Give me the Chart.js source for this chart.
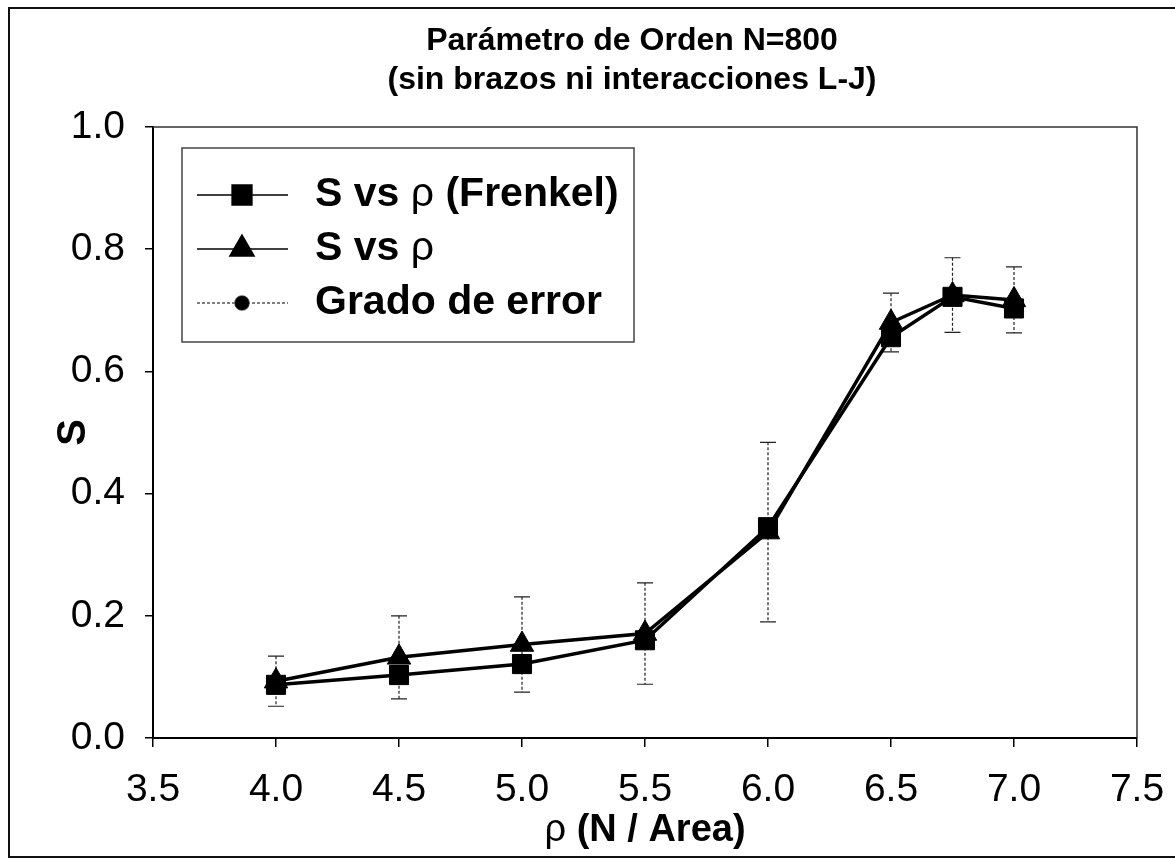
<!DOCTYPE html>
<html>
<head>
<meta charset="utf-8">
<title>Parámetro de Orden N=800</title>
<script src="https://cdn.jsdelivr.net/npm/chart.js@4/dist/chart.umd.min.js"></script>
<style>
  html, body { margin: 0; padding: 0; background: #fff; }
</style>
</head>
<body>
<canvas id="my-chart" width="1175" height="862"></canvas>
<script>
// densidad rho (N / Area)
const rho = [4.0, 4.5, 5.0, 5.5, 6.0, 6.5, 6.75, 7.0];
// S vs rho (Frenkel) - cuadrados
const sFrenkel = [0.087, 0.103, 0.121, 0.160, 0.345, 0.656, 0.722, 0.703];
// S vs rho - triangulos
const sVals = [0.093, 0.132, 0.153, 0.171, 0.337, 0.680, 0.725, 0.717];
// grado de error (extremos de las barras)
const errLow = [0.052, 0.064, 0.075, 0.088, 0.190, 0.632, 0.664, 0.663];
const errHigh = [0.134, 0.200, 0.231, 0.254, 0.484, 0.728, 0.786, 0.771];

const xTicks = [3.5, 4.0, 4.5, 5.0, 5.5, 6.0, 6.5, 7.0, 7.5];
const yTicks = [0.0, 0.2, 0.4, 0.6, 0.8, 1.0];

const titleLines = ['Parámetro de Orden N=800', '(sin brazos ni interacciones L-J)'];
const FONT = '"Liberation Sans", Arial, sans-serif';

function drawRuns(ctx, x, y, parts, size, align) {
  let total = 0;
  parts.forEach(([txt, bold]) => {
    ctx.font = (bold ? 'bold ' : '') + size + 'px ' + FONT;
    total += ctx.measureText(txt).width;
  });
  if (align === 'center') x -= total / 2;
  ctx.textAlign = 'left';
  parts.forEach(([txt, bold]) => {
    ctx.font = (bold ? 'bold ' : '') + size + 'px ' + FONT;
    ctx.fillText(txt, x, y);
    x += ctx.measureText(txt).width;
  });
}

const errorBars = {
  id: 'errorBars',
  beforeDatasetsDraw(chart) {
    const {ctx, scales: {x, y}} = chart;
    ctx.save();
    ctx.strokeStyle = '#222';
    ctx.lineWidth = 1.2;
    rho.forEach((r, i) => {
      const px = x.getPixelForValue(r);
      const top = y.getPixelForValue(errHigh[i]);
      const bot = y.getPixelForValue(errLow[i]);
      ctx.setLineDash([3, 2]);
      ctx.beginPath();
      ctx.moveTo(px, top);
      ctx.lineTo(px, bot);
      ctx.stroke();
      ctx.setLineDash([]);
      ctx.beginPath();
      ctx.moveTo(px - 8, top); ctx.lineTo(px + 8, top);
      ctx.moveTo(px - 8, bot); ctx.lineTo(px + 8, bot);
      ctx.stroke();
    });
    ctx.restore();
  }
};

const decorations = {
  id: 'decorations',
  afterDraw(chart) {
    const {ctx, chartArea: a} = chart;
    ctx.save();
    // marco exterior
    ctx.strokeStyle = '#111';
    ctx.lineWidth = 2;
    ctx.strokeRect(9, 8, 1180, 849);
    // borde superior y derecho del area
    ctx.lineWidth = 1.5;
    ctx.strokeStyle = '#333';
    ctx.beginPath();
    ctx.moveTo(a.left, a.top);
    ctx.lineTo(a.right, a.top);
    ctx.lineTo(a.right, a.bottom);
    ctx.stroke();

    // titulo
    ctx.fillStyle = '#000';
    ctx.textBaseline = 'alphabetic';
    ctx.textAlign = 'center';
    ctx.font = 'bold 32px ' + FONT;
    ctx.fillText(titleLines[0], 632, 50);
    ctx.fillText(titleLines[1], 632, 89);

    // titulo eje x
    ctx.textBaseline = 'middle';
    drawRuns(ctx, (a.left + a.right) / 2, 831, [['ρ ', false], ['(N / Area)', true]], 38, 'center');

    // leyenda
    ctx.strokeStyle = '#444';
    ctx.lineWidth = 1.5;
    ctx.strokeRect(182, 148, 452, 194);
    const rows = [
      {y: 195, style: 'rect', dash: [], parts: [['S vs ', true], ['ρ', false], [' (Frenkel)', true]]},
      {y: 249, style: 'triangle', dash: [], parts: [['S vs ', true], ['ρ', false]]},
      {y: 303, style: 'circle', dash: [3, 2], parts: [['Grado de error', true]]}
    ];
    rows.forEach(r => {
      ctx.strokeStyle = r.style === 'circle' ? '#555' : '#000';
      ctx.lineWidth = 1.5;
      ctx.setLineDash(r.dash);
      ctx.beginPath();
      ctx.moveTo(197, r.y);
      ctx.lineTo(288, r.y);
      ctx.stroke();
      ctx.setLineDash([]);
      const rad = r.style === 'circle' ? 7 : 14;
      Chart.helpers.drawPoint(ctx, {pointStyle: r.style, radius: rad, borderWidth: 1}, 242, r.y);
      ctx.fillStyle = '#000';
      ctx.fill();
      ctx.textBaseline = 'middle';
      drawRuns(ctx, 315, r.y, r.parts, 41, 'left');
    });
    ctx.restore();
  }
};

const ctx = document.getElementById('my-chart').getContext('2d');
const chart = new Chart(ctx, {
  type: 'line',
  data: {
    datasets: [
      {
        label: 'S vs ρ (Frenkel)',
        data: rho.map((r, i) => ({x: r, y: sFrenkel[i]})),
        borderColor: '#000',
        backgroundColor: '#000',
        borderWidth: 3.5,
        pointStyle: 'rect',
        pointRadius: 13.5,
        pointBorderWidth: 1,
        order: 1
      },
      {
        label: 'S vs ρ',
        data: rho.map((r, i) => ({x: r, y: sVals[i]})),
        borderColor: '#000',
        backgroundColor: '#000',
        borderWidth: 3.5,
        pointStyle: 'triangle',
        pointRadius: 13.5,
        pointBorderWidth: 1,
        order: 2
      },
      {
        label: 'Grado de error',
        data: rho.map((r, i) => ({x: r, y: sVals[i]})),
        borderColor: '#000',
        backgroundColor: '#000',
        showLine: false,
        pointStyle: 'circle',
        pointRadius: 4,
        order: 3
      }
    ]
  },
  options: {
    responsive: false,
    animation: false,
    layout: {padding: {left: 12, right: 38, top: 127, bottom: 10}},
    plugins: {
      legend: {display: false},
      tooltip: {enabled: false},
      title: {display: false}
    },
    scales: {
      x: {
        type: 'linear',
        min: 3.5,
        max: 7.5,
        afterBuildTicks: s => { s.ticks = xTicks.map(v => ({value: v})); },
        afterFit: s => { s.height = 114; s.paddingLeft = 0; s.paddingRight = 0; },
        grid: {display: true, drawOnChartArea: false, drawTicks: true, tickLength: 9, color: '#000', lineWidth: 1.5},
        border: {display: true, color: '#000', width: 2},
        ticks: {
          color: '#000',
          padding: 20,
          maxRotation: 0,
          font: {family: FONT, size: 39},
          callback: v => v.toFixed(1)
        }
      },
      y: {
        min: 0,
        max: 1,
        afterBuildTicks: s => { s.ticks = yTicks.map(v => ({value: v})); },
        afterFit: s => { s.width = 141; },
        grid: {display: true, drawOnChartArea: false, drawTicks: true, tickLength: 8, color: '#000', lineWidth: 1.5},
        border: {display: true, color: '#000', width: 2},
        title: {
          display: true,
          text: 'S',
          color: '#000',
          font: {family: FONT, size: 40, weight: 'bold'},
          padding: {top: 38, bottom: 0}
        },
        ticks: {
          color: '#000',
          padding: 20,
          font: {family: FONT, size: 39},
          callback: v => v.toFixed(1)
        }
      }
    }
  },
  plugins: [errorBars, decorations]
});
</script>
</body>
</html>
